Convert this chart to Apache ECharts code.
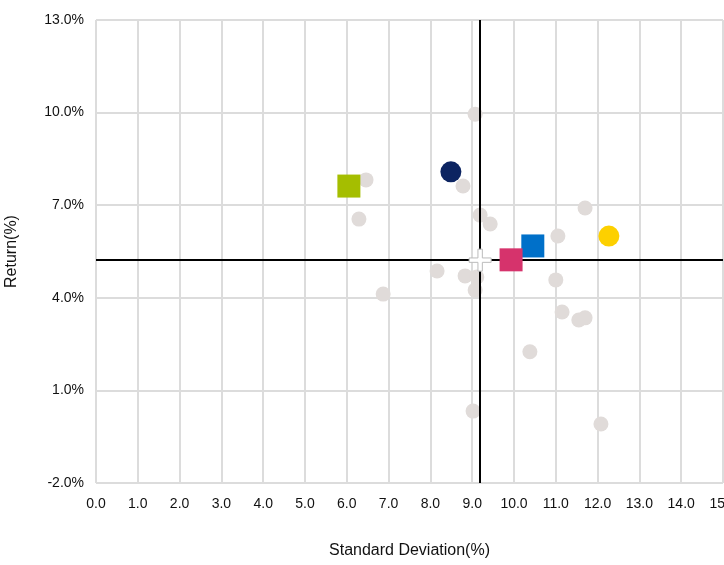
<!DOCTYPE html>
<html><head><meta charset="utf-8">
<script src="https://cdn.jsdelivr.net/npm/echarts@6/dist/echarts.min.js"></script>
<style>html,body{margin:0;padding:0;background:#fff}#c{width:724px;height:565px}</style>
</head><body><div id="c"></div>
<script>
// 灰色背景点 [标准差, 收益]
const grayPoints = [
  [9.07, 9.95], [6.46, 7.82], [8.78, 7.62], [6.29, 6.55], [9.19, 6.68], [9.43, 6.39],
  [11.7, 6.91], [11.05, 6.0], [8.16, 4.87], [8.83, 4.71], [9.11, 4.67], [9.07, 4.25],
  [6.87, 4.12], [11.0, 4.58], [11.15, 3.54], [11.55, 3.28], [11.7, 3.35], [10.38, 2.25],
  [9.02, 0.33], [12.08, -0.09]
];
const highlightNames = ['green', 'navy', 'blue', 'pink', 'yellow'];
const highlightValues = [[6.05, 7.62], [8.49, 8.08], [10.45, 5.68], [9.93, 5.23], [12.27, 6.0]];
const highlightColors = ['#a5be00', '#0c2461', '#0070c9', '#d6336c', '#fdd000'];
const highlightSymbols = ['rect', 'circle', 'rect', 'rect', 'circle'];
const crossPoint = [9.19, 5.22];

const chart = echarts.init(document.getElementById('c'));
const font = 'Arial, "Liberation Sans", sans-serif';
chart.setOption({
  animation: false,
  grid: { left: 96, right: 1, top: 20, bottom: 82, outerBoundsMode: 'none', containLabel: false },
  xAxis: {
    type: 'value', min: 0, max: 15, interval: 1,
    name: 'Standard Deviation(%)', nameLocation: 'middle', nameGap: 60,
    nameTextStyle: { fontSize: 16, color: '#111', fontFamily: font },
    axisLine: { show: false }, axisTick: { show: false },
    axisLabel: { formatter: v => v.toFixed(1), fontSize: 14, color: '#111', fontFamily: font, margin: 14 },
    splitLine: { lineStyle: { color: '#dcdcdc', width: 2 } }
  },
  yAxis: {
    type: 'value', min: -2, max: 13, interval: 3,
    name: 'Return(%)', nameLocation: 'middle', nameGap: 76,
    nameTextStyle: { fontSize: 16, color: '#111', fontFamily: font },
    axisLine: { show: false }, axisTick: { show: false },
    axisLabel: { formatter: v => v.toFixed(1) + '%', fontSize: 14, color: '#111', fontFamily: font, margin: 12 },
    splitLine: { lineStyle: { color: '#dcdcdc', width: 2 } }
  },
  series: [
    {
      type: 'scatter', data: grayPoints, symbolSize: 15,
      itemStyle: { color: '#e0dbd9', opacity: 1 }, z: 2,
      markLine: {
        silent: true, symbol: 'none', label: { show: false },
        lineStyle: { color: '#000', width: 2, type: 'solid' },
        data: [{ xAxis: crossPoint[0] }, { yAxis: crossPoint[1] }]
      }
    },
    {
      type: 'scatter', data: [crossPoint], symbol: 'path://M4,0H6V4H10V6H6V10H4V6H0V4H4Z',
      symbolSize: 22, itemStyle: { color: '#fff', borderColor: '#bbb', borderWidth: 1, opacity: 1 }, z: 6
    },
    ...highlightNames.map((n, i) => ({
      name: n, type: 'scatter', data: [highlightValues[i]],
      symbol: highlightSymbols[i], symbolSize: highlightSymbols[i] === 'rect' ? 23 : 21,
      itemStyle: { color: highlightColors[i], opacity: 1 }, z: 5
    }))
  ]
});
</script></body></html>
